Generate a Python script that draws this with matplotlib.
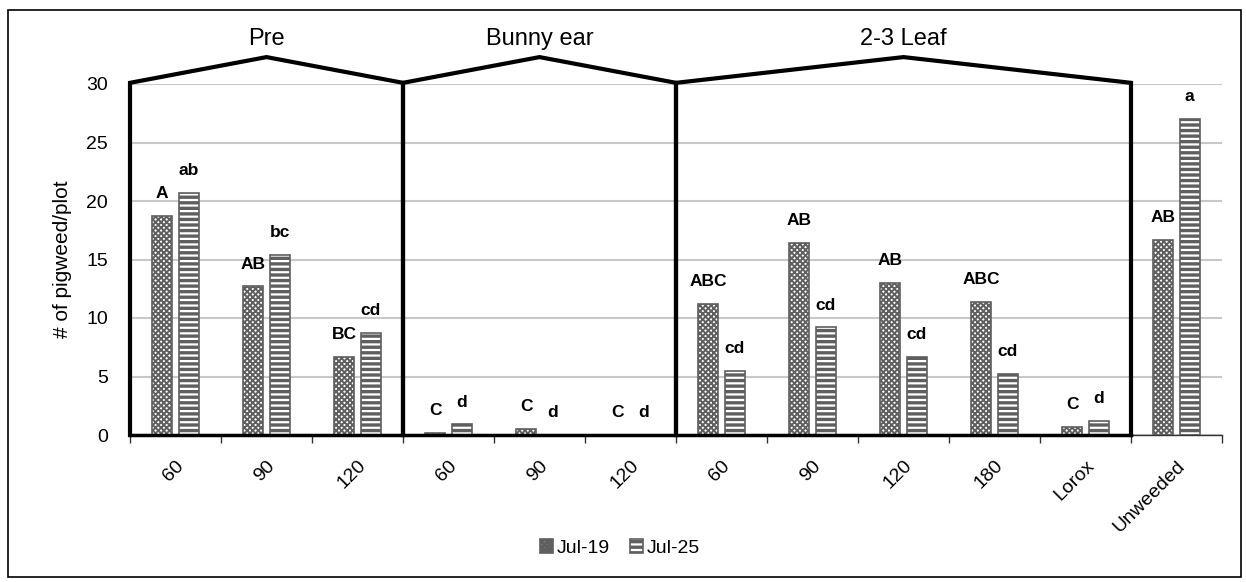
import numpy as np
import matplotlib
matplotlib.use('Agg')
import matplotlib.pyplot as plt
from matplotlib.patches import Rectangle

plt.rcParams['font.family'] = ['Liberation Sans', 'DejaVu Sans']

# treatment timing groups and rates
categories = ['60', '90', '120', '60', '90', '120', '60', '90', '120', '180', 'Lorox', 'Unweeded']
groups = ['Pre', 'Bunny ear', '2-3 Leaf']
group_bounds = [(0, 3), (3, 6), (6, 11)]

jul19 = [18.7, 12.7, 6.7, 0.2, 0.5, 0.0, 11.2, 16.4, 13.0, 11.4, 0.7, 16.7]
jul25 = [20.7, 15.4, 8.7, 0.9, 0.0, 0.0, 5.5, 9.2, 6.7, 5.2, 1.2, 27.0]
jul19_letters = ['A', 'AB', 'BC', 'C', 'C', 'C', 'ABC', 'AB', 'AB', 'ABC', 'C', 'AB']
jul25_letters = ['ab', 'bc', 'cd', 'd', 'd', 'd', 'cd', 'cd', 'cd', 'cd', 'd', 'a']

fig = plt.figure(figsize=(12.46, 5.82), dpi=100)
ax = fig.add_axes([130 / 1246, 1 - 435 / 582, (1222 - 130) / 1246, (435 - 84) / 582])

# outer chart border
fig.add_artist(Rectangle((8 / 1246, 1 - 577 / 582), 1233 / 1246, 567 / 582,
                         transform=fig.transFigure, fill=False, lw=1.2, ec='black'))

x = np.arange(len(categories)) + 0.5
w = 0.22
off = 0.145

plt.rcParams['hatch.linewidth'] = 1.4
b1 = ax.bar(x - off, jul19, w, color='white', edgecolor='#5f5f5f', hatch='xxxxxx',
            linewidth=1.2, label='Jul-19', zorder=3)
plt.rcParams['hatch.linewidth'] = 2.4
b2 = ax.bar(x + off, jul25, w, color='white', edgecolor='#5f5f5f', hatch='---',
            linewidth=1.2, label='Jul-25', zorder=3)

for xi, v, t in zip(x - off, jul19, jul19_letters):
    ax.annotate(t, (xi, v), xytext=(0, 16), textcoords='offset points',
                ha='center', va='center', fontsize=12.5, fontweight='bold')
for xi, v, t in zip(x + off, jul25, jul25_letters):
    ax.annotate(t, (xi, v), xytext=(0, 16), textcoords='offset points',
                ha='center', va='center', fontsize=12.5, fontweight='bold')

ax.set_xlim(0, len(categories))
ax.set_ylim(0, 30)
ax.set_yticks(range(0, 31, 5))
ax.yaxis.grid(True, color='#c8c8c8', lw=1.5, zorder=0)
ax.set_axisbelow(True)
for s in ['top', 'right', 'left']:
    ax.spines[s].set_visible(False)
ax.spines['bottom'].set_color('#333333')
ax.spines['bottom'].set_linewidth(1.0)

ax.set_xticks(np.arange(len(categories) + 1))
ax.set_xticklabels([])
ax.tick_params(axis='x', length=6, width=1.0, color='#333333')
ax.tick_params(axis='y', length=0, labelsize=14, pad=16)
ax.set_xticks(x, minor=True)
ax.set_xticklabels(categories, minor=True, rotation=45, ha='right', va='top',
                   rotation_mode='anchor', fontsize=14)
ax.tick_params(axis='x', which='minor', length=0, pad=16)
ax.set_ylabel('# of pigweed/plot', fontsize=15, labelpad=10)

# brackets over each timing group
for name, (a, b) in zip(groups, group_bounds):
    mid = (a + b) / 2
    ax.plot([a, a, mid, b, b], [0, 30.1, 32.3, 30.1, 0], color='black', lw=3,
            clip_on=False, zorder=5, solid_joinstyle='miter')
    ax.text(mid, 32.9, name, ha='center', va='bottom', fontsize=17)
ax.plot([0, 11], [0, 0], color='black', lw=2.5, clip_on=False, zorder=5)

fig.legend(handles=[b1, b2], loc='center', bbox_to_anchor=(620 / 1246, 1 - 548 / 582),
           ncol=2, frameon=False, fontsize=14, handlelength=0.7, handleheight=0.7,
           handletextpad=0.2, columnspacing=1.0)

fig.savefig('out.png', dpi=100)
